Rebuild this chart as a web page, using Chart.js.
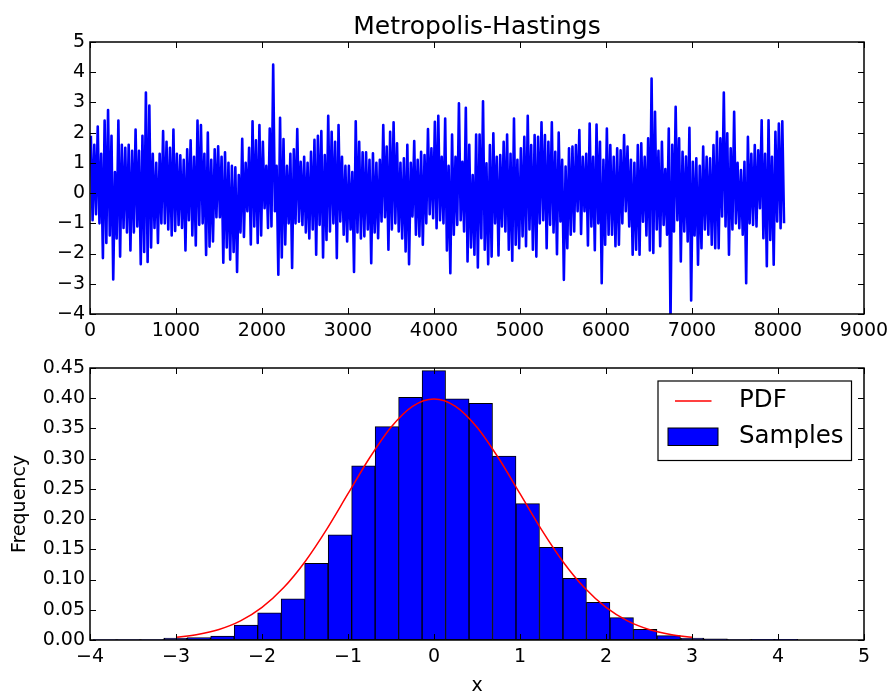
<!DOCTYPE html>
<html><head><meta charset="utf-8">
<script src="https://cdn.jsdelivr.net/npm/chart.js@4.4.0/dist/chart.umd.min.js"></script>
<style>
html,body{margin:0;padding:0;background:#fff;}
#wrap{position:relative;width:896px;height:698px;overflow:hidden;}
canvas{position:absolute;left:0;}
#c1{top:0;} #c2{top:349px;}
</style></head><body>
<div id="wrap"><canvas id="c1" width="896" height="349"></canvas><canvas id="c2" width="896" height="349"></canvas></div>
<script>
// ---- Trace (Metropolis-Hastings samples), read as high/low envelope per block of 40 samples ----
const traceBlockSize = 40;
const traceHigh = [
 1.9, 1.6, 2.2, 1.3, 2.4, 2.75, 1.9, 0.7, 2.4, 1.6,
 1.5, 1.6, 1.4, 2.1, 1.4, 1.9, 3.33, 2.9, 1.3, 1.0,
 1.3, 2.05, 1.7, 1.5, 2.1, 1.3, 1.25, 1.1, 1.45, 1.75,
 1.2, 2.4, 2.25, 1.3, 2.0, 1.1, 1.45, 1.55, 1.2, 1.35,
 1.0, 0.9, 0.85, 0.6, 1.8, 1.0, 1.5, 2.38, 1.75, 2.25, 1.7,
 0.9, 2.14, 4.25, 0.9, 2.49, 1.79, 0.9, 1.3, 1.45, 2.12,
 1.04, 1.2, 1.0, 1.37, 1.76, 1.9, 2.05, 1.26, 2.56, 2.03,
 1.7, 2.25, 1.2, 0.9, 0.9, 0.7, 2.38, 1.7, 1.35, 1.35,
 1.1, 1.32, 1.0, 1.1, 2.25, 1.54, 2.03, 2.34, 1.65, 1.0,
 1.15, 1.6, 1.0, 1.72, 1.1, 1.37, 1.26, 2.12, 1.48, 2.36, 2.56,
 1.2, 2.47, 0.9, 1.94, 1.2, 2.97, 1.04, 2.82, 1.6, 0.6,
 1.94, 1.94, 3.04, 0.99, 1.59, 1.98, 1.2, 1.26, 1.7, 1.94,
 1.3, 2.47, 1.1, 1.48, 1.86, 2.56, 1.59, 1.92, 1.86, 2.34,
 1.92, 1.7, 2.34, 1.37, 2.0, 1.1, 0.88, 1.48, 1.54, 1.59,
 2.09, 1.2, 1.3, 2.3, 1.2, 2.27, 1.7, 1.1, 2.14, 1.59, 1.2,
 1.48, 1.42, 1.92, 1.54, 1.1, 1.0, 1.59, 1.65, 1.2, 1.81,
 3.79, 2.69, 1.4, 1.7, 0.8, 2.14, 1.6, 2.86, 1.81, 1.37,
 1.21, 2.16, 1.04, 1.15, 0.9, 1.54, 1.2, 1.15, 1.59, 2.03,
 1.81, 3.33, 1.98, 1.48, 2.69, 1.0, 0.76, 1.04, 1.86, 1.3,
 1.59, 1.42, 2.41, 1.3, 2.41, 1.2, 2.03, 2.3, 2.38
];
const traceLow = [
 -0.9, -0.7, -1.0, -2.15, -1.65, -1.4, -2.86, -1.5, -2.1, -1.15,
 -1.3, -1.9, -1.3, -1.1, -2.35, -1.95, -2.28, -1.8, -1.15, -1.65,
 -1.0, -1.0, -1.2, -1.4, -1.25, -1.05, -1.15, -1.9, -0.9, -1.4,
 -1.73, -1.05, -1.0, -2.05, -1.77, -1.6, -0.8, -0.8, -2.3, -1.8,
 -2.2, -1.95, -2.61, -1.3, -1.45, -0.6, -1.7, -1.1, -1.65, -1.4, -0.5,
 -1.15, -1.1, -0.6, -2.7, -2.13, -1.7, -1.0, -2.48, -1.0, -0.95,
 -1.05, -1.3, -1.5, -1.2, -2.04, -1.05, -2.13, -1.55, -1.27, -1.0,
 -2.15, -0.94, -1.38, -1.6, -1.2, -2.61, -1.3, -1.5, -1.43, -1.2,
 -2.32, -1.3, -1.49, -0.94, -0.8, -1.87, -1.2, -1.0, -1.27, -1.5,
 -1.93, -2.35, -0.77, -1.38, -1.43, -1.71, -1.0, -0.7, -0.83, -1.16, -0.9,
 -1.0, -1.9, -2.65, -1.38, -1.05, -0.9, -1.27, -2.26, -1.8, -2.04,
 -2.46, -1.49, -1.87, -2.35, -2.1, -1.0, -2.06, -1.1, -1.27, -1.87,
 -2.24, -1.71, -1.82, -1.43, -1.76, -1.2, -1.87, -2.1, -1.0, -0.9,
 -1.82, -1.05, -1.3, -2.02, -0.94, -2.87, -1.82, -1.38, -1.27, -0.6,
 -1.35, -0.6, -1.73, -1.1, -1.89, -1.0, -2.98, -1.71, -1.38, -1.38, -1.76,
 -1.71, -1.0, -0.6, -1.1, -2.04, -1.87, -2.04, -0.95, -1.4, -1.9,
 -1.98, -1.2, -1.76, -1.05, -1.38, -4.3, -1.27, -0.9, -2.26, -1.27,
 -1.6, -3.55, -1.4, -2.37, -1.82, -1.2, -1.38, -1.71, -1.82, -1.82,
 -0.77, -1.1, -2.04, -1.2, -1.0, -1.16, -1.38, -2.98, -1.0, -1.05,
 -1.1, -0.5, -1.49, -2.42, -1.55, -2.37, -0.94, -1.16, -1.0
];

// ---- Histogram (30 bins) ----
const binCenters = [
 -3.825, -3.552, -3.279, -3.006, -2.733, -2.460, -2.187, -1.914, -1.641, -1.368,
 -1.094, -0.821, -0.548, -0.275, -0.002, 0.271, 0.544, 0.817, 1.090, 1.363,
 1.636, 1.909, 2.183, 2.456, 2.729, 3.002, 3.275, 3.548, 3.821, 4.094
];
const binFreq = [
 0.0005, 0.0009, 0.0009, 0.003, 0.004, 0.0066, 0.0248, 0.045, 0.068, 0.127,
 0.174, 0.288, 0.353, 0.4015, 0.4456, 0.399, 0.3915, 0.3044, 0.2256, 0.1533,
 0.102, 0.0623, 0.037, 0.0177, 0.0072, 0.003, 0.002, 0.0005, 0.001, 0.001
];

// ---- PDF curve ----
const pdfX = [-3, -2.75, -2.5, -2.25, -2, -1.75, -1.5, -1.25, -1, -0.75, -0.5, -0.25, 0,
              0.25, 0.5, 0.75, 1, 1.25, 1.5, 1.75, 2, 2.25, 2.5, 2.75, 3];
const pdfY = [0.0044, 0.0091, 0.0175, 0.0317, 0.0540, 0.0863, 0.1295, 0.1826, 0.2420, 0.3011, 0.3521, 0.3867, 0.3989,
              0.3867, 0.3521, 0.3011, 0.2420, 0.1826, 0.1295, 0.0863, 0.0540, 0.0317, 0.0175, 0.0091, 0.0044];

// ---- Axis settings ----
const traceXRange = [0, 9000], traceXStep = 1000;
const traceYRange = [-4, 5], traceYStep = 1;
const histXRange = [-4, 5], histXStep = 1;
const histYRange = [0, 0.45], histYStep = 0.05;

const FONT = "'DejaVu Sans', 'Liberation Sans', sans-serif";
const fmt = (v, d) => (v < -1e-9 ? '\u2212' : '') + Math.abs(v).toFixed(d);

const frameTicks = {
  id: 'frameTicks',
  afterDatasetsDraw(chart) {
    const {ctx, chartArea: a, scales: {x, y}} = chart;
    ctx.save();
    ctx.strokeStyle = '#000';
    ctx.lineWidth = 1;
    const L = 6;
    ctx.beginPath();
    x.ticks.forEach(t => {
      const px = Math.round(x.getPixelForValue(t.value)) + 0.5;
      ctx.moveTo(px, a.bottom); ctx.lineTo(px, a.bottom - L);
      ctx.moveTo(px, a.top); ctx.lineTo(px, a.top + L);
    });
    y.ticks.forEach(t => {
      const py = Math.round(y.getPixelForValue(t.value)) + 0.5;
      ctx.moveTo(a.left, py); ctx.lineTo(a.left + L, py);
      ctx.moveTo(a.right, py); ctx.lineTo(a.right - L, py);
    });
    ctx.stroke();
    ctx.lineWidth = 1.5;
    ctx.strokeRect(a.left, a.top, a.right - a.left, a.bottom - a.top);
    ctx.restore();
  }
};

const boxLegend = {
  id: 'boxLegend',
  afterDraw(chart) {
    const {ctx, chartArea: a} = chart;
    const w = 193.5, h = 79.5;
    const x0 = a.right - 12.5 - w, y0 = a.top + 13;
    const pdfDs = chart.data.datasets[0], barDs = chart.data.datasets[1];
    ctx.save();
    ctx.fillStyle = '#fff'; ctx.fillRect(x0, y0, w, h);
    ctx.strokeStyle = '#000'; ctx.lineWidth = 1.2; ctx.strokeRect(x0, y0, w, h);
    ctx.strokeStyle = pdfDs.borderColor; ctx.lineWidth = 1.3;
    ctx.beginPath(); ctx.moveTo(x0 + 17, y0 + 20); ctx.lineTo(x0 + 53.5, y0 + 20); ctx.stroke();
    ctx.fillStyle = barDs.backgroundColor; ctx.fillRect(x0 + 10, y0 + 47, 50, 17.5);
    ctx.strokeStyle = '#000'; ctx.lineWidth = 1; ctx.strokeRect(x0 + 10, y0 + 47, 50, 17.5);
    ctx.fillStyle = '#000'; ctx.font = '24.5px ' + FONT; ctx.textBaseline = 'middle'; ctx.textAlign = 'left';
    ctx.fillText(pdfDs.label, x0 + 81, y0 + 20);
    ctx.fillText(barDs.label, x0 + 81, y0 + 56);
    ctx.restore();
  }
};

const tickFont = {family: FONT, size: 19};

// Trace points
const tracePoints = [];
for (let b = 0; b < traceHigh.length; b++) {
  tracePoints.push({x: b * traceBlockSize + 10, y: traceHigh[b]});
  tracePoints.push({x: b * traceBlockSize + 30, y: traceLow[b]});
}

new Chart(document.getElementById('c1'), {
  type: 'line',
  data: {datasets: [{
    label: 'samples', data: tracePoints, borderColor: '#0000ff', borderWidth: 2.6,
    pointRadius: 0, tension: 0, fill: false, borderJoinStyle: 'round'
  }]},
  options: {
    responsive: false, animation: false, devicePixelRatio: 1,
    layout: {padding: {left: 0, right: 32, top: 0, bottom: 0}},
    plugins: {
      legend: {display: false}, tooltip: {enabled: false},
      title: {display: true, fullSize: false, text: 'Metropolis-Hastings', color: '#000',
        font: {family: FONT, size: 25, weight: 'normal'}, padding: {top: 12, bottom: 0}}
    },
    scales: {
      x: {type: 'linear', min: traceXRange[0], max: traceXRange[1],
        ticks: {stepSize: traceXStep, autoSkip: false, maxRotation: 0, color: '#000', font: tickFont, padding: 6,
          callback: v => fmt(v, 0)},
        grid: {display: false, drawTicks: false}, border: {display: false},
        afterFit(s) { s.height = 35; }},
      y: {type: 'linear', min: traceYRange[0], max: traceYRange[1],
        ticks: {stepSize: traceYStep, color: '#000', font: tickFont, padding: 5, callback: v => fmt(v, 0)},
        grid: {display: false, drawTicks: false}, border: {display: false},
        afterFit(s) { s.width = 90; }}
    }
  },
  plugins: [frameTicks]
});

new Chart(document.getElementById('c2'), {
  type: 'bar',
  data: {datasets: [
    {type: 'line', label: 'PDF', data: pdfX.map((x, i) => ({x, y: pdfY[i]})), borderColor: '#ff0000',
     borderWidth: 1.5, pointRadius: 0, cubicInterpolationMode: 'monotone', fill: false, order: 0},
    {type: 'bar', label: 'Samples', data: binCenters.map((x, i) => ({x, y: binFreq[i]})),
     backgroundColor: '#0000ff', borderColor: '#000', borderWidth: 1, borderSkipped: false,
     barPercentage: 1, categoryPercentage: 1, order: 1}
  ]},
  options: {
    responsive: false, animation: false, devicePixelRatio: 1,
    layout: {padding: {left: 0, right: 32, top: 19, bottom: 0}},
    plugins: {legend: {display: false}, tooltip: {enabled: false}},
    scales: {
      x: {type: 'linear', offset: false, min: histXRange[0], max: histXRange[1],
        ticks: {stepSize: histXStep, autoSkip: false, maxRotation: 0, color: '#000', font: tickFont, padding: 6,
          callback: v => fmt(v, 0)},
        grid: {display: false, drawTicks: false, offset: false}, border: {display: false},
        title: {display: true, text: 'x', color: '#000', font: {family: FONT, size: 19}, padding: {top: 0, bottom: 1}},
        afterFit(s) { s.height = 58; }},
      y: {type: 'linear', min: histYRange[0], max: histYRange[1], beginAtZero: true,
        ticks: {stepSize: histYStep, color: '#000', font: tickFont, padding: 5, callback: v => fmt(v, 2)},
        grid: {display: false, drawTicks: false}, border: {display: false},
        title: {display: true, text: 'Frequency', color: '#000', font: {family: FONT, size: 19}, padding: {top: 8.6, bottom: 0}},
        afterFit(s) { s.width = 90; }}
    }
  },
  plugins: [frameTicks, boxLegend]
});
</script>
</body></html>
